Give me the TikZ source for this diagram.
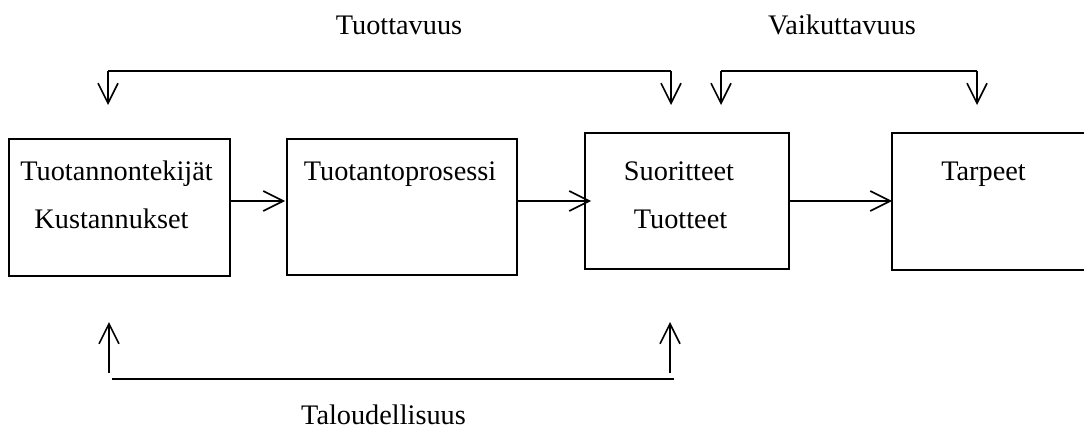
\documentclass[tikz,border=0pt]{standalone}
\usepackage{fontspec}
\setmainfont{Liberation Serif}
\usetikzlibrary{arrows.meta}
\begin{document}
\begin{tikzpicture}[x=1pt,y=-1pt,
  every node/.style={font=\fontsize{28.3}{34}\selectfont},
  box/.style={draw,line width=1.6pt,inner sep=0pt,outer sep=0pt},
  txt/.style={anchor=base,inner sep=0pt},
  ln/.style={line width=1.6pt},
  arr/.style={line width=1.6pt,-{Straight Barb[length=20pt,width=20pt,line width=1.6pt]}}]
\useasboundingbox (0,0) rectangle (1084,428);
% boxes
\node[box,minimum width=221pt,minimum height=137pt] (b1) at (119.5,207.5) {};
\node[box,minimum width=230pt,minimum height=136pt] (b2) at (402,207) {};
\node[box,minimum width=204pt,minimum height=136pt] (b3) at (687,201) {};
\node[box,minimum width=220pt,minimum height=137pt] (b4) at (1002,201.5) {};
% texts
\node[txt] (t1a) at (116.5,180) {Tuotannontekijät};
\node[txt] (t1b) at (111.5,228) {Kustannukset};
\node[txt] (t2) at (400,180) {Tuotantoprosessi};
\node[txt] (t3a) at (679,180) {Suoritteet};
\node[txt] (t3b) at (680.5,228) {Tuotteet};
\node[txt] (t4) at (983.5,180) {Tarpeet};
\node[txt] (l1) at (399,35) {Tuottavuus};
\node[txt] (l2) at (842,35) {Vaikuttavuus};
\node[txt] (l3) at (383.5,424) {Taloudellisuus};
% horizontal arrows
\coordinate (mid) at (0,201);
\draw[arr] (b1.east |- mid) -- ([xshift=-2pt]b2.west |- mid);
\draw[arr] (b2.east |- mid) -- ([xshift=6pt]b3.west |- mid);
\draw[arr] (b3.east |- mid) -- (b4.west |- mid);
% top brackets
\coordinate (p1) at (108,71);
\coordinate (p2) at (671,71);
\coordinate (p1t) at (108,105);
\coordinate (p2t) at (671,105);
\draw[ln] (p2) -- (p1);
\draw[arr] (p1) -- (p1t);
\draw[arr] (p2) -- (p2t);
\coordinate (q1) at (721,71);
\coordinate (q2) at (977,71);
\coordinate (q1t) at (721,105);
\coordinate (q2t) at (977,105);
\draw[ln] (q1) -- (q2);
\draw[arr] (q1) -- (q1t);
\draw[arr] (q2) -- (q2t);
% bottom bracket
\coordinate (r1) at (109,373);
\coordinate (r1t) at (109,322);
\coordinate (r2) at (670,373);
\coordinate (r2t) at (670,322);
\coordinate (h1) at (112,379);
\coordinate (h2) at (674,379);
\draw[arr] (r1) -- (r1t);
\draw[arr] (r2) -- (r2t);
\draw[ln] (h1) -- (h2);
\end{tikzpicture}
\end{document}
